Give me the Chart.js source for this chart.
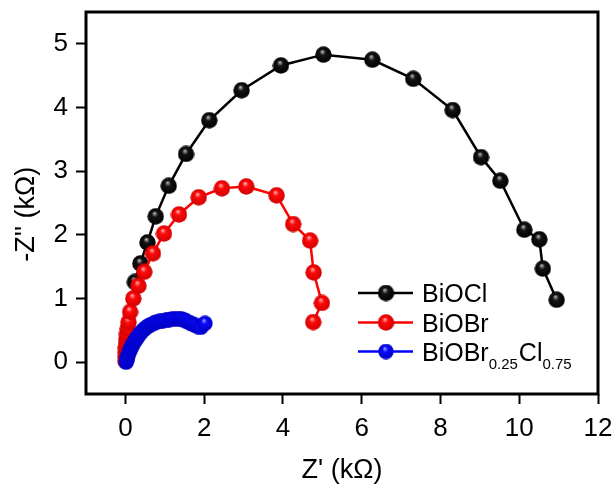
<!DOCTYPE html>
<html>
<head>
<meta charset="utf-8">
<script src="https://cdn.jsdelivr.net/npm/chart.js@4/dist/chart.umd.min.js"></script>
<style>
  html, body { margin: 0; padding: 0; background: #fff; }
  #wrap { width: 612px; height: 488px; }
</style>
</head>
<body>
<div id="wrap"><canvas id="nyquist" width="612" height="488"></canvas></div>
<script>
// ===============================
// DATA (kΩ)
// ===============================
const seriesNames = ["BiOCl", "BiOBr", "BiOBr0.25Cl0.75"]

const bioclX = [0.24, 0.38, 0.56, 0.77, 1.10, 1.54, 2.13, 2.95, 3.95, 5.03, 6.27, 7.31, 8.31, 9.03, 9.52, 10.13, 10.51, 10.60, 10.95]
const bioclY = [1.26, 1.55, 1.88, 2.29, 2.77, 3.27, 3.80, 4.27, 4.66, 4.83, 4.75, 4.45, 3.96, 3.22, 2.85, 2.08, 1.93, 1.47, 0.98]

const biobrX = [0.00, 0.00, 0.01, 0.01, 0.02, 0.03, 0.04, 0.06, 0.08, 0.12, 0.20, 0.33, 0.48, 0.70, 0.98, 1.36, 1.86, 2.45, 3.07, 3.84, 4.26, 4.69, 4.78, 4.99, 4.77]
const biobrY = [0.02, 0.09, 0.16, 0.23, 0.30, 0.37, 0.45, 0.53, 0.63, 0.79, 1.00, 1.20, 1.42, 1.71, 2.02, 2.32, 2.59, 2.73, 2.76, 2.62, 2.17, 1.91, 1.41, 0.93, 0.63]

const mixX = [0.02, 0.03, 0.05, 0.07, 0.09, 0.12, 0.15, 0.18, 0.22, 0.26, 0.30, 0.35, 0.40, 0.46, 0.52, 0.58, 0.65, 0.72, 0.79, 0.87, 0.95, 1.03, 1.11, 1.19, 1.27, 1.35, 1.42, 1.49, 1.56, 1.63, 1.70, 1.77, 1.84, 1.92, 2.02]
const mixY = [0.00, 0.03, 0.07, 0.11, 0.15, 0.19, 0.23, 0.27, 0.31, 0.35, 0.39, 0.43, 0.47, 0.51, 0.54, 0.57, 0.59, 0.61, 0.63, 0.64, 0.65, 0.66, 0.67, 0.68, 0.68, 0.68, 0.68, 0.66, 0.64, 0.62, 0.60, 0.58, 0.56, 0.55, 0.61]

const xTicks = [0, 2, 4, 6, 8, 10, 12]
const yTicks = [0, 1, 2, 3, 4, 5]

const FONT = "'Liberation Sans', Arial, sans-serif"

// ===============================
// SHADED BALL MARKERS
// ===============================
function sphere(base, light, dark, d) {
  const c = document.createElement("canvas")
  c.width = d
  c.height = d
  const g = c.getContext("2d")
  const r = d / 2
  const grad = g.createRadialGradient(r * 0.85, r * 0.6, 0, r, r, r)
  grad.addColorStop(0, light)
  grad.addColorStop(0.35, base)
  grad.addColorStop(1, dark)
  g.fillStyle = grad
  g.beginPath()
  g.arc(r, r, r - 0.3, 0, Math.PI * 2)
  g.fill()
  return c
}

const ballBlack = sphere("#141414", "#c8c8c8", "#000000", 17)
const ballRed = sphere("#ff0a0a", "#ffc0c0", "#d00000", 17)
const ballBlue = sphere("#0a0aff", "#b0b0ff", "#0000c0", 16)

function toPoints(xs, ys) {
  return xs.map((x, i) => ({ x: x, y: ys[i] }))
}

// ===============================
// PLUGINS: frame + legend
// ===============================
const framePlugin = {
  id: "frame",
  afterDraw(chart) {
    const { ctx, chartArea: a } = chart
    ctx.save()
    ctx.strokeStyle = "#000"
    ctx.lineWidth = 3
    ctx.strokeRect(a.left, a.top, a.right - a.left, a.bottom - a.top)
    ctx.restore()
  }
}

const legendRows = [
  { parts: [["BiOCl", false]], color: "#000", ball: ballBlack, y: 293 },
  { parts: [["BiOBr", false]], color: "#ff0000", ball: ballRed, y: 322.5 },
  { parts: [["BiOBr", false], ["0.25", true], ["Cl", false], ["0.75", true]], color: "#0000ff", ball: ballBlue, y: 351.5 }
]

const legendPlugin = {
  id: "subLegend",
  afterDraw(chart) {
    const ctx = chart.ctx
    ctx.save()
    legendRows.forEach(row => {
      ctx.strokeStyle = row.color
      ctx.lineWidth = 2.5
      ctx.beginPath()
      ctx.moveTo(358, row.y)
      ctx.lineTo(413, row.y)
      ctx.stroke()
      ctx.drawImage(row.ball, 386 - row.ball.width / 2, row.y - row.ball.height / 2)

      let x = 422
      ctx.fillStyle = "#000"
      ctx.textAlign = "left"
      ctx.textBaseline = "alphabetic"
      row.parts.forEach(([txt, sub]) => {
        ctx.font = (sub ? "15px " : "25px ") + FONT
        ctx.fillText(txt, x, row.y + 9 + (sub ? 8 : 0))
        x += ctx.measureText(txt).width + (sub ? 1 : 0)
      })
    })
    ctx.restore()
  }
}

// ===============================
// CHART
// ===============================
const ctx = document.getElementById("nyquist").getContext("2d")

new Chart(ctx, {
  type: "scatter",
  data: {
    datasets: [
      {
        label: seriesNames[0],
        data: toPoints(bioclX, bioclY),
        showLine: true,
        borderColor: "#000",
        borderWidth: 2.5,
        pointStyle: ballBlack,
        pointRadius: 8,
        tension: 0,
        order: 3
      },
      {
        label: seriesNames[1],
        data: toPoints(biobrX, biobrY),
        showLine: true,
        borderColor: "#ff0000",
        borderWidth: 2.5,
        pointStyle: ballRed,
        pointRadius: 8,
        tension: 0,
        order: 2
      },
      {
        label: seriesNames[2],
        data: toPoints(mixX, mixY),
        showLine: true,
        borderColor: "#0000ff",
        borderWidth: 2.5,
        pointStyle: ballBlue,
        pointRadius: 8,
        tension: 0,
        order: 1
      }
    ]
  },
  options: {
    responsive: false,
    animation: false,
    devicePixelRatio: 1,
    layout: { padding: { top: 12, right: 14, left: 0, bottom: 0 } },
    plugins: {
      legend: { display: false },
      tooltip: { enabled: false }
    },
    scales: {
      x: {
        type: "linear",
        min: -1,
        max: 12,
        afterFit(scale) {
          scale.height = 94
          scale.paddingLeft = 0
          scale.paddingRight = 0
        },
        afterBuildTicks(scale) { scale.ticks = xTicks.map(v => ({ value: v })) },
        border: { display: false },
        grid: { drawOnChartArea: false, tickLength: 10, tickWidth: 2, tickColor: "#000" },
        ticks: { color: "#000", padding: 9, font: { family: FONT, size: 26 } },
        title: {
          display: true,
          text: "Z' (kΩ)",
          color: "#000",
          font: { family: FONT, size: 27 },
          padding: { top: 0, bottom: 1 }
        }
      },
      y: {
        type: "linear",
        min: -0.5,
        max: 5.5,
        afterFit(scale) {
          scale.width = 86
          scale.paddingTop = 0
          scale.paddingBottom = 0
        },
        afterBuildTicks(scale) { scale.ticks = yTicks.map(v => ({ value: v })) },
        border: { display: false },
        grid: { drawOnChartArea: false, tickLength: 10, tickWidth: 2, tickColor: "#000" },
        ticks: { color: "#000", padding: 8, font: { family: FONT, size: 26 } },
        title: {
          display: true,
          text: "-Z'' (kΩ)   ",
          color: "#000",
          font: { family: FONT, size: 27 },
          padding: { top: 10, bottom: 0 }
        }
      }
    }
  },
  plugins: [framePlugin, legendPlugin]
})
</script>
</body>
</html>
